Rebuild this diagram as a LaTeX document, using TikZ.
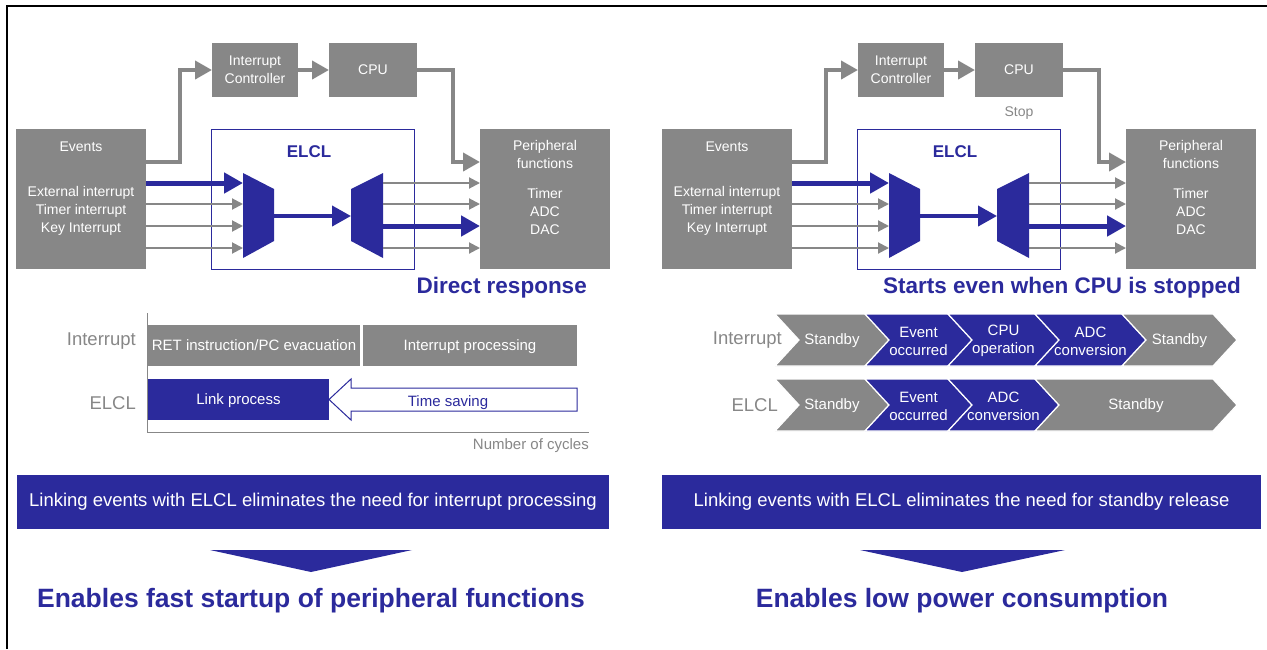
\documentclass[tikz,border=0pt]{standalone}
\usepackage{fontspec}
\setmainfont{Liberation Sans}
\usetikzlibrary{arrows.meta, positioning}

\definecolor{elblue}{RGB}{43,42,156}
\definecolor{elgray}{RGB}{135,135,135}

\newcommand{\pxfont}[2]{\fontsize{#1}{#2}\selectfont}

% one chevron of the state flow: name, left x, right x, top y, colour, text
\newcommand{\stagebox}[6]{%
  \fill[#5, draw=white, line width=1.2] (#2,#4) -- (#3,#4) -- (#3+24,#4+26)
      -- (#3,#4+52) -- (#2,#4+52) -- (#2+24,#4+26) -- cycle;
  \node[stagetxt] (#1) at ({(#2+#3)/2+12},#4+27) {#6};}

% events -> ELCL -> peripheral functions block
\newcommand{\elclpanel}{%
  \node[gbox, minimum width=130, minimum height=140] (events) at (81,199) {};
  \node[boxtxt] (evname) at (81,147) {Events};
  \node[boxtxt] (evlist) at (81,211) {External interrupt\\Timer interrupt\\Key Interrupt};
  \node[gbox, boxtxt, minimum width=86, minimum height=54] (intc) at (255,70) {Interrupt\\Controller};
  \node[gbox, boxtxt, minimum width=88, minimum height=54] (cpu) at (373,70) {CPU};
  \node[gbox, minimum width=130, minimum height=140] (periph) at (545,199) {};
  \node[boxtxt] (pfname) at (545,154) {Peripheral\\functions};
  \node[boxtxt] (pflist) at (545,211) {Timer\\ADC\\DAC};
  \node[draw=elblue, line width=1, minimum width=203, minimum height=140] (elcl) at (312.5,199) {};
  \node[text=elblue, font=\bfseries\pxfont{17}{20}] (elclname) at (309,152) {ELCL};
  % selectors
  \fill[elblue] (243,173) -- (274,189) -- (274,241) -- (243,258) -- cycle;
  \fill[elblue] (351,189) -- (383,173) -- (383,258) -- (351,241) -- cycle;
  \coordinate (inA) at (243,183);
  \coordinate (inB) at (243,204);
  \coordinate (inC) at (243,226);
  \coordinate (inD) at (243,248);
  \coordinate (selA) at (274,216);
  \coordinate (selB) at (351,216);
  \coordinate (outA) at (383,183);
  \coordinate (outB) at (383,204);
  \coordinate (outC) at (383,226);
  \coordinate (outD) at (383,248);
  \draw[bline] (events.east |- inA) -- (inA);
  \draw[gline] (events.east |- inB) -- (inB);
  \draw[gline] (events.east |- inC) -- (inC);
  \draw[gline] (events.east |- inD) -- (inD);
  \draw[bline, line width=4] (selA) -- (selB);
  \draw[gline] (outA) -- (outA -| periph.west);
  \draw[gline] (outB) -- (outB -| periph.west);
  \draw[bline] (outC) -- (outC -| periph.west);
  \draw[gline] (outD) -- (outD -| periph.west);
  % interrupt route
  \draw[gpath] ([yshift=37pt]events.east) -- ++(34,0) |- (intc);
  \draw[gpath] (intc) -- (cpu);
  \draw[gpath] (cpu.east) -- ++(36,0) |- ([yshift=37pt]periph.west);}

\begin{document}
\begin{tikzpicture}[x=1pt, y=-1pt]
  \tikzstyle{gbox}=[fill=elgray, inner sep=0, outer sep=0]
  \tikzstyle{bbox}=[fill=elblue, inner sep=0, outer sep=0, text=white]
  \tikzstyle{boxtxt}=[text=white, font=\pxfont{14}{18}, align=center, inner sep=0]
  \tikzstyle{stagetxt}=[text=white, font=\pxfont{15}{18}, align=center, inner sep=0]
  \tikzstyle{bartxt}=[font=\pxfont{15}{18}, text depth=0pt, minimum height=41, anchor=north west]
  \tikzstyle{axtxt}=[text=elgray, font=\pxfont{18.5}{22}, inner sep=0]
  \tikzstyle{subtitle}=[text=elblue, font=\bfseries\pxfont{22.5}{26}, inner sep=0]
  \tikzstyle{concl}=[text=elblue, font=\bfseries\pxfont{26.5}{30}, inner sep=0]
  \tikzstyle{msg}=[bbox, minimum height=54, font=\pxfont{18.5}{22}]
  \tikzstyle{gline}=[draw=elgray, line width=2, -{Triangle[length=11pt,width=11pt]}]
  \tikzstyle{bline}=[draw=elblue, line width=5, -{Triangle[length=19pt,width=20pt]}]
  \tikzstyle{gpath}=[draw=elgray, line width=4, -{Triangle[length=17pt,width=18pt]}]

  \useasboundingbox (0,0) rectangle (1267,649);
  \draw[line width=2] (7,649) -- (7,6) -- (1267,6);

  % left: fast startup
  \elclpanel
  \node[subtitle, anchor=east] (direct) at (587,288) {Direct response};

  \draw[elgray, line width=1] (147,313) -- (147,432) -- (589,432);
  \node[gbox, bartxt, text=white, minimum width=212] (ret) at (148,325) {RET instruction/PC evacuation};
  \node[gbox, bartxt, text=white, minimum width=214] (intproc) at (363,325) {Interrupt processing};
  \node[bbox, bartxt, minimum width=181] (link) at (148,379) {Link process};
  \draw[elblue, fill=white, line width=1] (577,388) -- (351,388) -- (351,379) -- (link.east)
      -- (351,420) -- (351,411) -- (577,411) -- cycle;
  \node[text=elblue, font=\pxfont{15}{18}, text depth=0pt] (saving) at (448,401) {Time saving};
  \node[axtxt, anchor=east] (lint) at (136,341) {Interrupt};
  \node[axtxt, anchor=east] (lelcl) at (136,403) {ELCL};
  \node[axtxt, font=\pxfont{15}{18}, anchor=east] (cycles) at (589,446) {Number of cycles};

  \node[msg, minimum width=592] (msgL) at (313,502) {Linking events with ELCL eliminates the need for interrupt processing};
  \fill[elblue] (210,550) -- (412,550) -- (311,572) -- cycle;
  \node[concl] (fastL) at (311,601) {Enables fast startup of peripheral functions};

  % right: low power
  \begin{scope}[xshift=646pt]
    \elclpanel
    \node[text=elgray, font=\pxfont{14}{18}, inner sep=0, below=10pt of cpu] (stop) {Stop};
  \end{scope}
  \node[subtitle, anchor=east] (starts) at (1241,288) {Starts even when CPU is stopped};

  \stagebox{sA}{775}{865}{314}{elgray}{Standby}
  \stagebox{sB}{865}{948}{314}{elblue}{Event\\occurred}
  \stagebox{sC}{948}{1035}{314}{elblue}{CPU\\operation}
  \stagebox{sD}{1035}{1122}{314}{elblue}{ADC\\conversion}
  \stagebox{sE}{1122}{1213}{314}{elgray}{Standby}
  \stagebox{tA}{775}{865}{379}{elgray}{Standby}
  \stagebox{tB}{865}{948}{379}{elblue}{Event\\occurred}
  \stagebox{tC}{948}{1035}{379}{elblue}{ADC\\conversion}
  \stagebox{tD}{1035}{1213}{379}{elgray}{Standby}
  \node[axtxt, anchor=east] (rint) at (782,340) {Interrupt};
  \node[axtxt, anchor=east] (relcl) at (778,405) {ELCL};

  \node[msg, minimum width=599] (msgR) at (961.5,502) {Linking events with ELCL eliminates the need for standby release};
  \fill[elblue] (860,550) -- (1065,550) -- (962,572) -- cycle;
  \node[concl] (lowR) at (962,601) {Enables low power consumption};
\end{tikzpicture}
\end{document}
